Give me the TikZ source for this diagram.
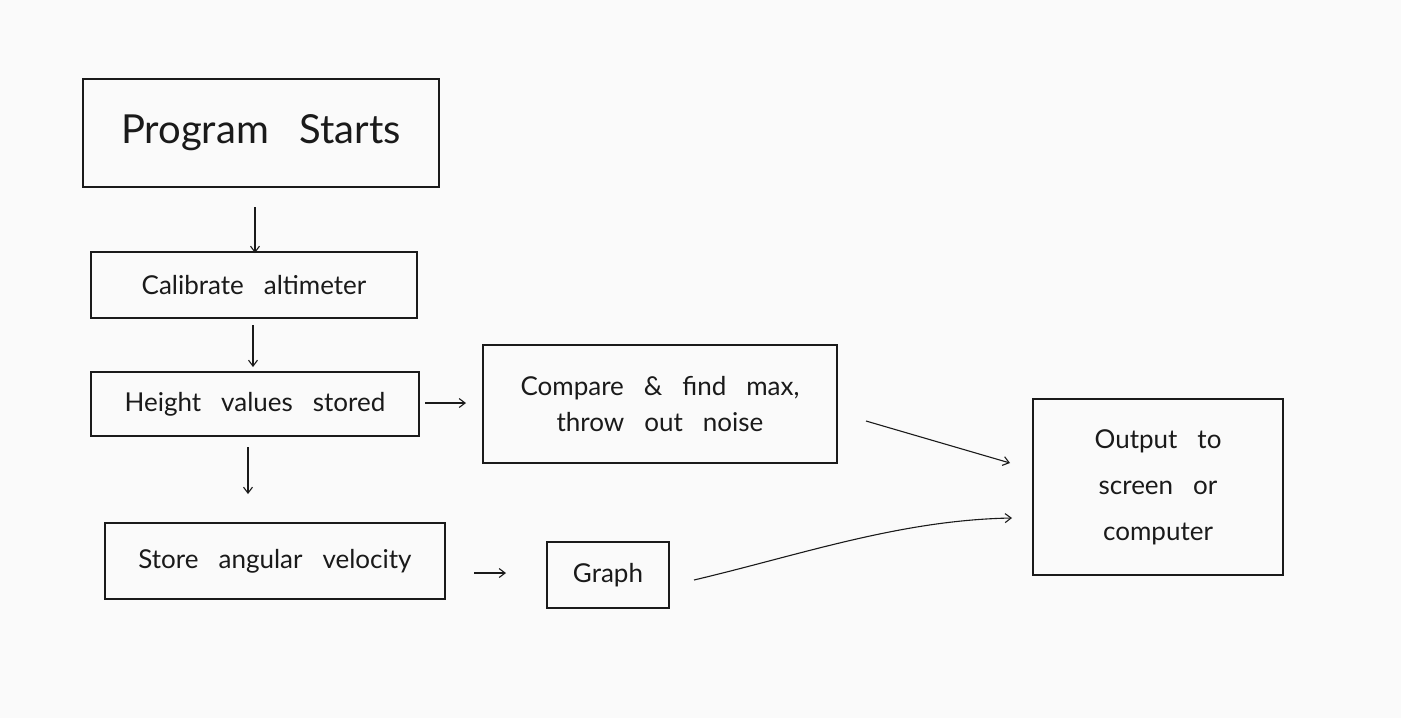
\documentclass[tikz,border=0pt]{standalone}
\usepackage{fontspec}
\setmainfont{Lato}[WordSpace=3]
\usetikzlibrary{arrows.meta}
\definecolor{bg}{HTML}{FAFAFA}
\definecolor{ink}{HTML}{1A1A1A}
\begin{document}
\begin{tikzpicture}[x=1pt,y=-1pt,
  box/.style={draw=ink,line width=1.3pt,rectangle,inner sep=0pt,align=center,text=ink,font=\fontsize{26}{36}\selectfont},
  conn/.style={draw=ink,line width=1.1pt,-{Straight Barb[length=6pt,width=9pt]}}]
\fill[bg] (0,0) rectangle (1401,718);
\useasboundingbox (0,0) rectangle (1401,718);
\node[box,minimum width=356pt,minimum height=108pt,font=\fontsize{40}{46}\selectfont] (start) at (261,133) {Program Starts};
\node[box,minimum width=326pt,minimum height=66pt] (cal) at (254,285) {Calibrate altimeter};
\node[box,minimum width=328pt,minimum height=64pt] (height) at (255,404) {Height values stored};
\node[box,minimum width=354pt,minimum height=118pt] (cmp) at (660,404) {Compare \& find max,\\throw out noise};
\node[box,minimum width=340pt,minimum height=76pt] (store) at (275,561) {Store angular velocity};
\node[box,minimum width=122pt,minimum height=66pt] (graph) at (608,575) {Graph};
\node[box,minimum width=250pt,minimum height=176pt,font=\fontsize{26}{46}\selectfont] (out) at (1158,487) {Output to\\screen or\\computer};
\coordinate (a1s) at (255,207); \coordinate (a1e) at (255,253);
\coordinate (a2s) at (253,325); \coordinate (a2e) at (253,367);
\coordinate (a3s) at (248,447); \coordinate (a3e) at (248,494);
\coordinate (a4s) at (425,403); \coordinate (a4e) at (466,403);
\coordinate (a5s) at (474,573); \coordinate (a5e) at (506,573);
\coordinate (a6s) at (866,421); \coordinate (a6e) at (1010,463);
\coordinate (a7s) at (694,580); \coordinate (a7e) at (1012,518);
\draw[conn] (a1s) -- (a1e);
\draw[conn] (a2s) -- (a2e);
\draw[conn] (a3s) -- (a3e);
\draw[conn] (a4s) -- (a4e);
\draw[conn] (a5s) -- (a5e);
\draw[conn] (a6s) -- (a6e);
\draw[conn] (a7s) .. controls (800,555) and (900,520) .. (a7e);
\end{tikzpicture}
\end{document}
